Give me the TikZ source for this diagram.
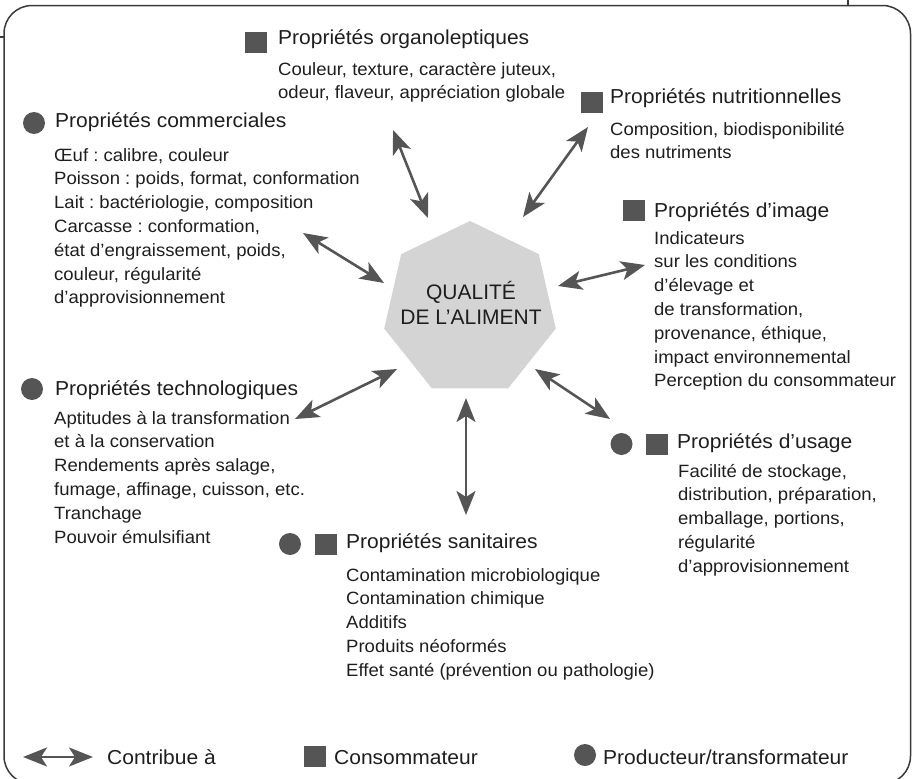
\documentclass[tikz,border=0pt]{standalone}
\usepackage{fontspec}
\setmainfont{Liberation Sans}
\newfontfamily\lblfont{Liberation Sans}[FakeStretch=1.04]
\usetikzlibrary{arrows.meta}
\frenchspacing

\definecolor{ink}{HTML}{1E1E1E}
\definecolor{markgray}{HTML}{555555}
\definecolor{heptfill}{HTML}{D4D4D5}
\definecolor{framecol}{HTML}{3A3A3A}

\newcommand\bodyfont{\lblfont\fontsize{17.8}{23.8}\selectfont}
\newcommand\headfont{\lblfont\fontsize{20.2}{24}\selectfont}
\newcommand\corefont{\fontsize{21}{25}\selectfont}
\newcommand\textlines[1]{\begin{tabular}[t]{@{}l@{}}#1\end{tabular}}

\begin{document}
\begin{tikzpicture}[x=1pt,y=-1pt,
  lbl/.style={inner sep=0pt, anchor=base west, text=ink},
  head/.style={lbl, font=\headfont},
  body/.style={lbl, font=\bodyfont},
  sq/.style={fill=markgray, minimum width=22pt, minimum height=21pt, inner sep=0pt},
  dot/.style={circle, fill=markgray, minimum size=22pt, inner sep=0pt},
  link/.style={draw=markgray, line width=2.6pt, {Stealth[length=24pt,width=19pt,inset=6pt]}-{Stealth[length=24pt,width=19pt,inset=6pt]}}]

\useasboundingbox (0,0) rectangle (914,779);
\clip (0,0) rectangle (914,779);

% outer frame and crop ticks
\draw[framecol, line width=1.5pt, rounded corners=28pt] (4,5.5) rectangle (910.5,784);
\draw[framecol, line width=1.2pt] (0,37) -- (4,37);
\draw[framecol, line width=1.2pt] (848,0) -- (848,5.5);

% central heptagon
\fill[heptfill] (470,309) +(-90:88) -- +(-38.57:88) -- +(12.86:88) -- +(64.29:88)
  -- +(115.71:88) -- +(167.14:88) -- +(218.57:88) -- cycle;
\node[anchor=base, inner sep=0pt, text=ink, font=\corefont] (core) at (471,299)
  {\begin{tabular}[t]{@{}c@{}}QUALITÉ\\DE L’ALIMENT\end{tabular}};

% organoleptic properties
\node[sq] (org-sq) at (256,42.5) {};
\node[head] (org-head) at (278,45) {Propriétés organoleptiques};
\node[body] (org-body) at (278,75) {\textlines{Couleur, texture, caractère juteux,\\odeur, flaveur, appréciation globale}};

% nutritional properties
\node[sq] (nut-sq) at (592,102.5) {};
\node[head] (nut-head) at (610,103) {Propriétés nutritionnelles};
\node[body] (nut-body) at (610,135) {\textlines{Composition, biodisponibilité\\des nutriments}};

% image properties
\node[sq] (img-sq) at (634,210) {};
\node[head] (img-head) at (654,217) {Propriétés d’image};
\node[body] (img-body) at (654,244) {\textlines{Indicateurs\\sur les conditions\\d’élevage et\\de transformation,\\provenance, éthique,\\impact environnemental\\Perception du consommateur}};

% commercial properties
\node[dot] (com-dot) at (34,123) {};
\node[head] (com-head) at (55,127) {Propriétés commerciales};
\node[body] (com-body) at (54,161) {\textlines{Œuf : calibre, couleur\\Poisson : poids, format, conformation\\Lait : bactériologie, composition\\Carcasse : conformation,\\état d’engraissement, poids,\\couleur, régularité\\d’approvisionnement}};

% technological properties
\node[dot] (tec-dot) at (32,389) {};
\node[head] (tec-head) at (55,395) {Propriétés technologiques};
\node[body] (tec-body) at (54,424) {\textlines{Aptitudes à la transformation\\et à la conservation\\Rendements après salage,\\fumage, affinage, cuisson, etc.\\Tranchage\\Pouvoir émulsifiant}};

% sanitary properties
\node[dot] (san-dot) at (290,544) {};
\node[sq] (san-sq) at (325.5,544.5) {};
\node[head] (san-head) at (346,548) {Propriétés sanitaires};
\node[body] (san-body) at (346,581) {\textlines{Contamination microbiologique\\Contamination chimique\\Additifs\\Produits néoformés\\Effet santé (prévention ou pathologie)}};

% usage properties
\node[dot] (use-dot) at (621.5,444) {};
\node[sq] (use-sq) at (657,444) {};
\node[head] (use-head) at (677,448) {Propriétés d’usage};
\node[body] (use-body) at (678,477) {\textlines{Facilité de stockage,\\distribution, préparation,\\emballage, portions,\\régularité\\d’approvisionnement}};

% arrow end points
\coordinate (org-a) at (393,130);  \coordinate (org-b) at (428,218);
\coordinate (nut-a) at (588,127);  \coordinate (nut-b) at (523,217);
\coordinate (com-a) at (303,233);  \coordinate (com-b) at (384,283);
\coordinate (img-a) at (645,265);  \coordinate (img-b) at (558,286);
\coordinate (tec-a) at (295,419);  \coordinate (tec-b) at (397,369);
\coordinate (san-a) at (466,515);  \coordinate (san-b) at (466,398);
\coordinate (use-a) at (610,419);  \coordinate (use-b) at (535,369);

\draw[link] (org-a) -- (org-b);
\draw[link] (nut-a) -- (nut-b);
\draw[link] (com-a) -- (com-b);
\draw[link] (img-a) -- (img-b);
\draw[link] (tec-a) -- (tec-b);
\draw[link] (san-a) -- (san-b);
\draw[link] (use-a) -- (use-b);

% legend
\coordinate (key-a) at (23,757);
\coordinate (key-b) at (93,757);
\draw[link] (key-a) -- (key-b);
\node[head] (key-link) at (107,764) {Contribue à};
\node[sq] (key-sq) at (315,756) {};
\node[head] (key-cons) at (334,764) {Consommateur};
\node[dot] (key-dot) at (585,755) {};
\node[head] (key-prod) at (603,764) {Producteur/transformateur};
\end{tikzpicture}
\end{document}
